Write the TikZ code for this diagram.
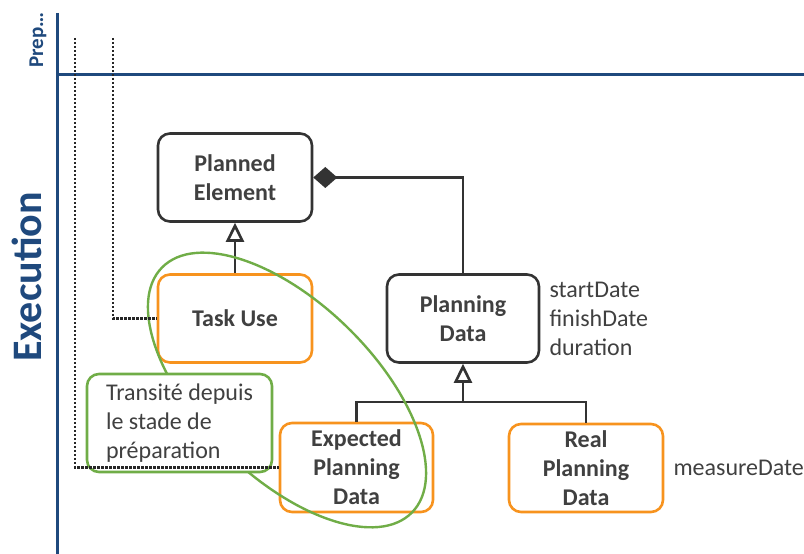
\documentclass[tikz,border=0pt]{standalone}
\usepackage{fontspec}
\setmainfont{Carlito}
\usepackage{tikz}
\usetikzlibrary{arrows.meta,positioning}
\definecolor{lanecol}{RGB}{31,73,125}
\definecolor{boxline}{RGB}{51,51,51}
\definecolor{usecol}{RGB}{247,147,30}
\definecolor{notecol}{RGB}{112,173,71}
\definecolor{txtcol}{RGB}{64,64,64}

\begin{document}
\begin{tikzpicture}[
        x=1pt,
        y=1pt,
        lane/.style={draw=lanecol, line width=3pt},
        wire/.style={draw=boxline, line width=2.6pt},
        cls/.style={draw=boxline, line width=2.6pt, rounded corners=12pt, fill=white, inner sep=2pt, minimum width=154pt, minimum height=88pt, align=center, text=txtcol, font=\fontsize{24}{29}\selectfont\bfseries},
        usecls/.style={cls, draw=usecol},
        attr/.style={align=left, inner sep=4pt, text=txtcol, font=\fontsize{24}{29}\selectfont},
        trace/.style={draw=black!85, line width=2.6pt, dash pattern=on 2.2pt off 1.8pt},
        hl/.style={draw=notecol, line width=2.4pt},
        gen/.style={-{Triangle[open, length=19pt, width=18pt]}},
        agg/.style={-{Diamond[length=24pt, width=21pt]}}
    ]
        \useasboundingbox (0,0) rectangle (804,554);
        \coordinate (lt) at (57,541);
        \coordinate (lb) at (57,0);
        \coordinate (ll) at (57,479);
        \coordinate (lr) at (804,479);
        \draw[lane] (lt) -- (lb);
        \draw[lane] (ll) -- (lr);
        \node[rotate=90, anchor=base, text=lanecol, font=\fontsize{21}{21}\selectfont\bfseries] (prep) at (43,514) {Prep…};
        \node[rotate=90, anchor=base, text=lanecol, font=\fontsize{42}{42}\selectfont\bfseries] (exe) at (42,277) {Execution};

        \node[cls] (pe) at (235,376.5) {Planned\\Element};
        \node[usecls] (tu) at (235,235.5) {Task Use};
        \node[cls, minimum width=152pt] (pd) at (463,235.5) {Planning\\Data};
        \node[attr, right=5pt of pd] (pdattr) {startDate\\finishDate\\duration};
        \node[usecls, minimum width=153pt, minimum height=89pt] (epd) at (356.5,86.5) {Expected\\Planning\\Data};
        \node[usecls] (rpd) at (586,86) {Real\\Planning\\Data};
        \node[attr, right=5pt of rpd] (rpdattr) {measureDate};

        \draw[wire, gen] (tu) -- (pe);
        \draw[wire, agg] (pd.north) |- (pe.east);
        \coordinate (fork) at (463,152);
        \draw[wire] (epd.north) |- (fork) -| (rpd.north);
        \draw[wire, gen] (fork) -- (pd.south);

        \draw[hl, rotate around={-44.4:(287,164)}] (287,164) ellipse [x radius=175pt, y radius=87pt];
        \node[cls, draw=notecol, minimum width=185pt, minimum height=98pt, align=left, font=\fontsize{24}{29}\selectfont] (nt) at (179.5,131) {Transité depuis\\le stade de\\préparation};

        \coordinate (tr1) at (75,516);
        \coordinate (tr2) at (113,516);
        \draw[trace] (tr1) |- (epd.west);
        \draw[trace] (tr2) |- (tu.west);
    \end{tikzpicture}
\end{document}
